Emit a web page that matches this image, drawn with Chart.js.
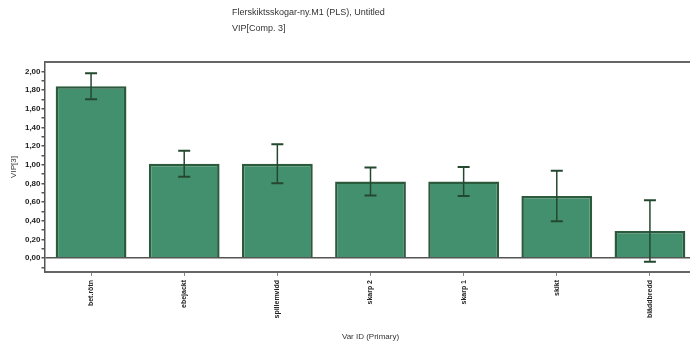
<!DOCTYPE html>
<html>
<head>
<meta charset="utf-8">
<script src="https://cdn.jsdelivr.net/npm/chart.js@4/dist/chart.umd.min.js"></script>
<style>
html,body{margin:0;padding:0;background:#fff;overflow:hidden;}
#wrap{width:700px;height:343px;}
</style>
</head>
<body>
<div id="wrap"><canvas id="c" width="700" height="343"></canvas></div>
<script>
const categories = ["bet.rötn", "ebejackt", "spillemvidd", "skarp 2", "skarp 1", "skikt", "bläddbredd"];
const vipValues = [1.84, 1.01, 1.01, 0.82, 0.82, 0.665, 0.29];
const vipErrors = [0.14, 0.14, 0.21, 0.15, 0.155, 0.27, 0.33];
const titleLines = ["Flerskiktsskogar-ny.M1 (PLS), Untitled", "VIP[Comp. 3]"];
const yTitle = "VIP[3]";
const xTitle = "Var ID (Primary)";

const FONT = "'Liberation Sans', Arial, sans-serif";

const titlePlugin = {
  id: 'titleText',
  afterDraw(chart) {
    const ctx = chart.ctx;
    ctx.save();
    ctx.fillStyle = '#333';
    ctx.font = "9px " + FONT;
    ctx.textBaseline = 'middle';
    ctx.textAlign = 'left';
    ctx.fillText(titleLines[0], 232, 13);
    ctx.fillText(titleLines[1], 232, 29);
    ctx.restore();
  }
};

const framePlugin = {
  id: 'frame',
  afterDraw(chart) {
    const a = chart.chartArea, ctx = chart.ctx;
    ctx.save();
    ctx.strokeStyle = '#666';
    ctx.lineWidth = 2;
    ctx.beginPath();
    ctx.moveTo(a.left, a.top);
    ctx.lineTo(a.right, a.top);
    ctx.stroke();
    ctx.restore();
  }
};

const errorBarPlugin = {
  id: 'errorBars',
  afterDatasetsDraw(chart) {
    const meta = chart.getDatasetMeta(0);
    const ys = chart.scales.y;
    const ctx = chart.ctx;
    ctx.save();
    ctx.strokeStyle = '#24482f';
    meta.data.forEach((bar, i) => {
      const x = bar.x;
      const yT = ys.getPixelForValue(vipValues[i] + vipErrors[i]);
      const yB = ys.getPixelForValue(vipValues[i] - vipErrors[i]);
      ctx.lineWidth = 1.5;
      ctx.beginPath();
      ctx.moveTo(x, yT); ctx.lineTo(x, yB);
      ctx.stroke();
      ctx.lineWidth = 2;
      ctx.beginPath();
      ctx.moveTo(x - 6, yT); ctx.lineTo(x + 6, yT);
      ctx.moveTo(x - 6, yB); ctx.lineTo(x + 6, yB);
      ctx.stroke();
    });
    ctx.restore();
  }
};

new Chart(document.getElementById('c'), {
  type: 'bar',
  data: {
    labels: categories,
    datasets: [{
      data: vipValues,
      backgroundColor: '#43906e',
      borderColor: '#2b5a3d',
      borderWidth: 2.5,
      barPercentage: 0.76,
      categoryPercentage: 1.0
    }]
  },
  options: {
    responsive: false,
    animation: false,
    devicePixelRatio: 1,
    layout: { padding: { top: 62, right: 3.5, left: 0, bottom: 0 } },
    plugins: {
      legend: { display: false },
      tooltip: { enabled: false },
      title: { display: false }
    },
    scales: {
      x: {
        afterFit(s) { s.height = 71; },
        grid: { display: true, drawOnChartArea: false, drawTicks: true, tickLength: 4, color: '#888', offset: false },
        border: { display: true, color: '#666', width: 2 },
        ticks: {
          autoSkip: false, minRotation: 90, maxRotation: 90, padding: 4,
          color: '#222', font: { family: FONT, size: 7, weight: 'bold' }
        },
        title: {
          display: true, text: xTitle, color: '#333',
          font: { family: FONT, size: 8 }, padding: { top: 0, bottom: 1 }
        }
      },
      y: {
        min: -0.15, max: 2.1,
        afterFit(s) { s.width = 44.5; },
        afterBuildTicks(s) {
          s.ticks = [];
          for (let k = -1; k <= 20; k++) s.ticks.push({ value: k / 10 });
        },
        grid: {
          drawTicks: true, tickLength: 3,
          color: (c) => (c.tick && Math.abs(c.tick.value) < 1e-9) ? '#555' : 'rgba(0,0,0,0)',
          tickColor: '#555', lineWidth: 1.5
        },
        border: { display: true, color: '#555', width: 1.5 },
        ticks: {
          padding: 1, color: '#222', autoSkip: false,
          font: { family: FONT, size: 8, weight: 'bold' },
          callback(v) {
            const k = Math.round(v * 10);
            if (k < 0 || k % 2 !== 0) return '';
            return (k / 10).toFixed(2).replace('.', ',');
          }
        },
        title: {
          display: true, text: yTitle, color: '#333',
          font: { family: FONT, size: 8 }, padding: { top: 9, bottom: 0 }
        }
      }
    }
  },
  plugins: [titlePlugin, framePlugin, errorBarPlugin]
});
</script>
</body>
</html>
